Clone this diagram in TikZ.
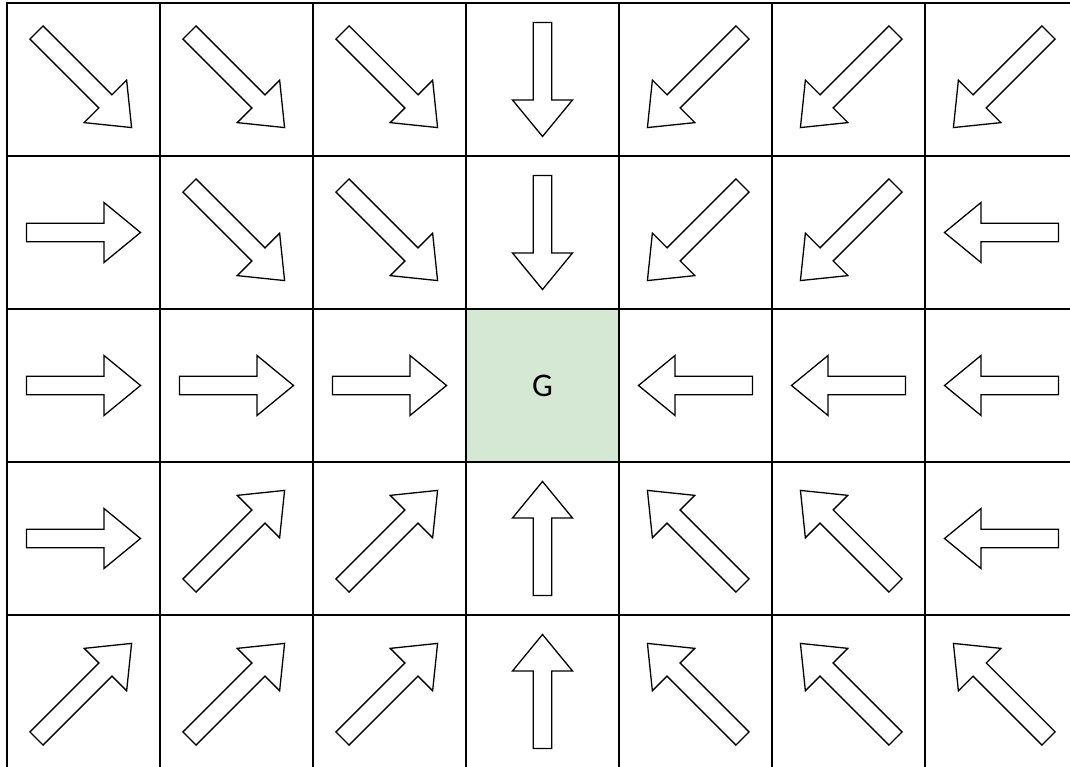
\documentclass[tikz,border=0pt]{standalone}
\usepackage{fontspec}
\setmainfont{Carlito}
\definecolor{gfill}{HTML}{D5E8D4}
\tikzset{
  straightarrow/.pic={\draw[arr] (-57,-9.3) -- (20.5,-9.3) -- (20.5,-30) -- (57,0) -- (20.5,30) -- (20.5,9.3) -- (-57,9.3) -- cycle;},
  diagarrow/.pic={\draw[arr] (-66.5,-9.3) -- (31,-9.3) -- (31,-30) -- (68,0) -- (31,30) -- (31,9.3) -- (-66.5,9.3) -- cycle;}
}
\begin{document}
\begin{tikzpicture}[x=1pt,y=1pt,
  cell/.style={draw=black, line width=1.6pt, minimum size=153pt, inner sep=0pt, outer sep=0pt},
  goal/.style={cell, fill=gfill, font=\fontsize{33}{33}\selectfont},
  arr/.style={draw=black, line width=1.3pt, fill=white, line join=miter}]
\useasboundingbox (0,0) rectangle (1070,767);
\clip (0,0) rectangle (1070,767);
\foreach \i in {0,...,6}{
  \foreach \j in {0,...,4}{
    \node[cell] (c-\i-\j) at ({83.5+153*\i},{687.5-153*\j}) {};
  }
}
\node[goal] (goal) at (c-3-2) {G};
\foreach \i/\j/\a/\t in {
  0/0/-45/diagarrow, 1/0/-45/diagarrow, 2/0/-45/diagarrow, 3/0/-90/straightarrow,
  4/0/-135/diagarrow, 5/0/-135/diagarrow, 6/0/-135/diagarrow,
  0/1/0/straightarrow, 1/1/-45/diagarrow, 2/1/-45/diagarrow, 3/1/-90/straightarrow,
  4/1/-135/diagarrow, 5/1/-135/diagarrow, 6/1/180/straightarrow,
  0/2/0/straightarrow, 1/2/0/straightarrow, 2/2/0/straightarrow,
  4/2/180/straightarrow, 5/2/180/straightarrow, 6/2/180/straightarrow,
  0/3/0/straightarrow, 1/3/45/diagarrow, 2/3/45/diagarrow, 3/3/90/straightarrow,
  4/3/135/diagarrow, 5/3/135/diagarrow, 6/3/180/straightarrow,
  0/4/45/diagarrow, 1/4/45/diagarrow, 2/4/45/diagarrow, 3/4/90/straightarrow,
  4/4/135/diagarrow, 5/4/135/diagarrow, 6/4/135/diagarrow}{
  \pic[rotate=\a] at (c-\i-\j) {\t};
}
\end{tikzpicture}
\end{document}
